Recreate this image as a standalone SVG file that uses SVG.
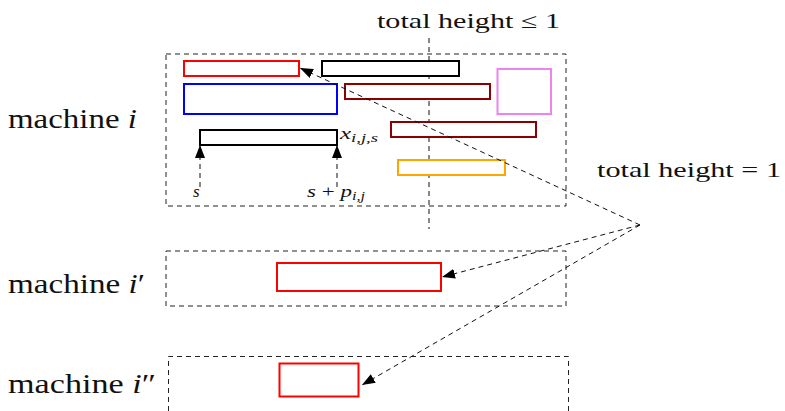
<svg xmlns="http://www.w3.org/2000/svg" width="785" height="411" viewBox="0 0 785 411">
  <style>
    .frame { fill: none; stroke: #222; stroke-width: 1; stroke-dasharray: 5 4; }
    .conn { fill: none; stroke: #111; stroke-width: 1; stroke-dasharray: 5 4; }
    .job { fill: #fff; stroke-width: 2; }
    .lbl { font-family: "Liberation Serif", "DejaVu Serif", serif; fill: #111; }
    .mi { font-style: italic; }
  </style>
  <defs>
    <marker id="head" markerUnits="userSpaceOnUse" markerWidth="14" markerHeight="10" refX="13" refY="5" orient="auto">
      <path d="M0,0 L13,5 L0,10 z" fill="#000"/>
    </marker>
  </defs>

  <rect width="785" height="411" fill="#fff"/>

  <!-- machine frames -->
  <g id="machine-i">
    <rect class="frame" x="166" y="54" width="400" height="152"/>
    <text class="lbl" x="8" y="127.5" font-size="27" textLength="129" lengthAdjust="spacingAndGlyphs">machine <tspan class="mi">i</tspan></text>
  </g>
  <g id="machine-i1">
    <rect class="frame" x="166" y="251" width="400" height="55"/>
    <text class="lbl" x="8" y="292.5" font-size="27" textLength="137" lengthAdjust="spacingAndGlyphs">machine <tspan class="mi">i</tspan>′</text>
  </g>
  <g id="machine-i2">
    <path class="frame" d="M168.5,420 V356.5 H568.5 V420"/>
    <text class="lbl" x="8" y="392.5" font-size="27" textLength="148" lengthAdjust="spacingAndGlyphs">machine <tspan class="mi">i</tspan>″</text>
  </g>

  <!-- height threshold line -->
  <g id="threshold">
    <line class="conn" x1="429" y1="38" x2="429" y2="229"/>
    <text class="lbl" x="377" y="27.5" font-size="21" textLength="183" lengthAdjust="spacingAndGlyphs">total height ≤ 1</text>
  </g>

  <!-- jobs on machine i -->
  <g id="job-red"><rect class="job" stroke="#ff0000" x="184" y="61" width="115" height="15"/></g>
  <g id="job-black-top"><rect class="job" stroke="#000" x="322" y="61" width="137" height="15"/></g>
  <g id="job-blue"><rect class="job" stroke="#0000ff" x="184" y="84" width="153" height="30"/></g>
  <g id="job-darkred-1"><rect class="job" stroke="#8b0000" x="345" y="84" width="145" height="15"/></g>
  <g id="job-violet"><rect class="job" stroke="#ee82ee" x="497.5" y="69" width="53.5" height="45"/></g>
  <g id="job-black-bar">
    <rect class="job" stroke="#000" x="200" y="130" width="137" height="15"/>
    <text class="lbl mi" x="340" y="139" font-size="16" textLength="38" lengthAdjust="spacingAndGlyphs">x<tspan font-size="12" dy="3">i,j,s</tspan></text>
  </g>
  <g id="job-darkred-2"><rect class="job" stroke="#8b0000" x="391" y="122" width="145" height="15"/></g>
  <g id="job-orange"><rect class="job" stroke="#ffa500" x="398" y="160" width="107" height="15"/></g>

  <!-- jobs on other machines -->
  <g id="job-red-i1"><rect class="job" stroke="#ff0000" x="277" y="263" width="164" height="28"/></g>
  <g id="job-red-i2"><rect class="job" stroke="#ff0000" x="279.5" y="363.5" width="79" height="33"/></g>

  <!-- time markers -->
  <g id="time-marks">
    <line class="conn" x1="200" y1="187" x2="200" y2="145" marker-end="url(#head)"/>
    <line class="conn" x1="337" y1="187" x2="337" y2="145" marker-end="url(#head)"/>
    <text class="lbl mi" x="193" y="197" font-size="17">s</text>
    <text class="lbl" x="307" y="197" font-size="17" textLength="58" lengthAdjust="spacingAndGlyphs"><tspan class="mi">s</tspan> + <tspan class="mi">p</tspan><tspan class="mi" font-size="12" dy="3">i,j</tspan></text>
  </g>

  <!-- connectors from the note -->
  <g id="connectors">
    <line class="conn" x1="640" y1="225" x2="300" y2="68" marker-end="url(#head)"/>
    <line class="conn" x1="640" y1="225" x2="442" y2="277" marker-end="url(#head)"/>
    <line class="conn" x1="640" y1="225" x2="362" y2="385" marker-end="url(#head)"/>
  </g>

  <g id="note">
    <text class="lbl" x="597" y="177" font-size="21" textLength="184" lengthAdjust="spacingAndGlyphs">total height = 1</text>
  </g>
</svg>
